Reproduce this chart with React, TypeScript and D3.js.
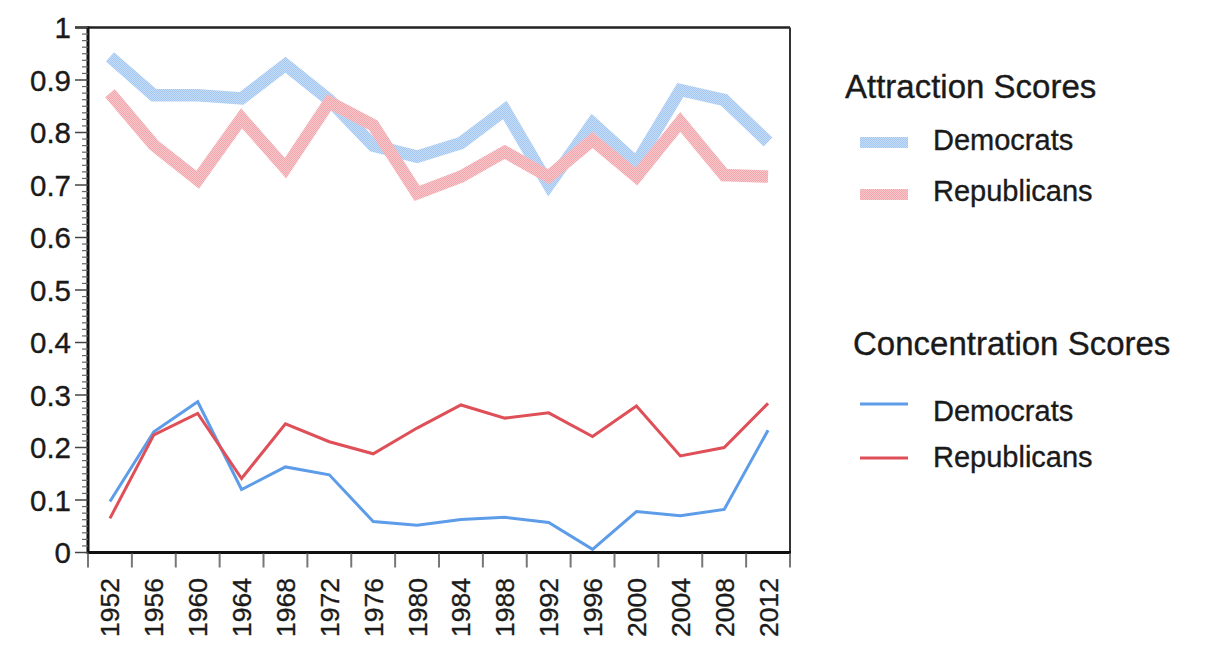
import React from "react";
import * as d3 from "d3";

const years = [1952, 1956, 1960, 1964, 1968, 1972, 1976, 1980, 1984, 1988, 1992, 1996, 2000, 2004, 2008, 2012];
const attractionDem = [0.944, 0.871, 0.871, 0.865, 0.929, 0.862, 0.775, 0.754, 0.78, 0.843, 0.7, 0.818, 0.742, 0.881, 0.862, 0.782];
const attractionRep = [0.875, 0.776, 0.71, 0.827, 0.732, 0.858, 0.814, 0.684, 0.716, 0.763, 0.716, 0.786, 0.716, 0.82, 0.719, 0.716];
const concentrationDem = [0.097, 0.23, 0.287, 0.12, 0.163, 0.148, 0.059, 0.052, 0.063, 0.067, 0.057, 0.006, 0.078, 0.07, 0.082, 0.233];
const concentrationRep = [0.065, 0.224, 0.265, 0.141, 0.245, 0.211, 0.188, 0.237, 0.281, 0.256, 0.266, 0.221, 0.279, 0.184, 0.2, 0.284];
const yTicks = [0, 0.1, 0.2, 0.3, 0.4, 0.5, 0.6, 0.7, 0.8, 0.9, 1];
const yTickLabels = ["0", "0.1", "0.2", "0.3", "0.4", "0.5", "0.6", "0.7", "0.8", "0.9", "1"];

const W = 1207;
const H = 646;
const L = 88, R = 790, T = 27.5, B = 552.5;
const FONT = "'Liberation Sans', Arial, Helvetica, sans-serif";

export default function App() {
  const x = d3.scaleBand<number>().domain(years).range([L, R]).paddingInner(0).paddingOuter(0);
  const y = d3.scaleLinear().domain([0, 1]).range([B, T]);
  const cx = (yr: number) => (x(yr) as number) + x.bandwidth() / 2;
  const line = (vals: number[]) =>
    d3.line<number>().x((_, i) => cx(years[i])).y((v) => y(v))(vals) as string;

  const minor = d3.range(0, 1.0001, 0.0125).filter((v) => Math.abs(v * 10 - Math.round(v * 10)) > 1e-6);
  const bounds = years.map((yr) => x(yr) as number).concat([R]);
  const txt = { fill: "#1a1a1a", stroke: "#1a1a1a", strokeWidth: 0.35 };

  return (
    <svg width={W} height={H} style={{ position: "absolute", left: 0, top: 0, background: "#fff" }} fontFamily={FONT}>
      <defs>
        <pattern id="patBlue" patternUnits="userSpaceOnUse" width="2" height="2">
          <rect width="2" height="2" fill="#c6ddf8" />
          <rect width="1" height="1" fill="#a4c7f2" />
          <rect x="1" y="1" width="1" height="1" fill="#a4c7f2" />
        </pattern>
        <pattern id="patRed" patternUnits="userSpaceOnUse" width="2" height="2">
          <rect width="2" height="2" fill="#f8c9cc" />
          <rect width="1" height="1" fill="#f2a6ab" />
          <rect x="1" y="1" width="1" height="1" fill="#f2a6ab" />
        </pattern>
      </defs>
      <rect width={W} height={H} fill="#fff" />

      {/* lines */}
      <path d={line(attractionDem)} fill="none" stroke="url(#patBlue)" strokeWidth={12.5} strokeLinejoin="miter" />
      <path d={line(attractionRep)} fill="none" stroke="url(#patRed)" strokeWidth={12.5} strokeLinejoin="miter" />
      <path d={line(concentrationDem)} fill="none" stroke="#5d9ce8" strokeWidth={3} />
      <path d={line(concentrationRep)} fill="none" stroke="#df4f58" strokeWidth={3} />

      {/* frame */}
      <line x1={75} x2={R} y1={T} y2={T} stroke="#222" strokeWidth={2.5} />
      <line x1={R} x2={R} y1={T} y2={B} stroke="#333" strokeWidth={2} />
      <line x1={L} x2={L} y1={T - 1} y2={B + 1.5} stroke="#111" strokeWidth={3} />
      <line x1={L} x2={R + 1} y1={B} y2={B} stroke="#111" strokeWidth={3} />

      {/* y ticks */}
      {yTicks.map((v) => (
        <line key={"ym" + v} x1={75} x2={L} y1={y(v)} y2={y(v)} stroke="#444" strokeWidth={1.5} />
      ))}
      {minor.map((v) => (
        <line key={"yn" + v} x1={82} x2={L} y1={y(v)} y2={y(v)} stroke="#666" strokeWidth={1.2} />
      ))}
      {yTicks.map((v, i) => (
        <text key={"yl" + v} x={71} y={y(v)} dy="0.36em" textAnchor="end" fontSize={29.5} {...txt}>
          {yTickLabels[i]}
        </text>
      ))}

      {/* x ticks */}
      {bounds.map((bx, i) => (
        <line key={"xt" + i} x1={bx} x2={bx} y1={B + 1} y2={B + 15} stroke="#777" strokeWidth={2} />
      ))}
      {years.map((yr) => (
        <text
          key={"xl" + yr}
          transform={`translate(${cx(yr)},578) rotate(-90)`}
          dy="0.36em"
          textAnchor="end"
          fontSize={26.5}
          {...txt}
        >
          {yr}
        </text>
      ))}

      {/* legend */}
      <text x={845} y={98} fontSize={33} {...txt}>Attraction Scores</text>
      <rect x={860} y={137} width={48} height={11} fill="url(#patBlue)" />
      <text x={933} y={150} fontSize={29} {...txt}>Democrats</text>
      <rect x={860} y={189} width={48} height={11} fill="url(#patRed)" />
      <text x={933} y={201} fontSize={29} {...txt}>Republicans</text>

      <text x={853} y={355} fontSize={33} {...txt}>Concentration Scores</text>
      <line x1={860} x2={908} y1={404} y2={404} stroke="#5d9ce8" strokeWidth={3} />
      <text x={933} y={421} fontSize={29} {...txt}>Democrats</text>
      <line x1={860} x2={908} y1={458} y2={458} stroke="#df4f58" strokeWidth={3} />
      <text x={933} y={467} fontSize={29} {...txt}>Republicans</text>
    </svg>
  );
}
